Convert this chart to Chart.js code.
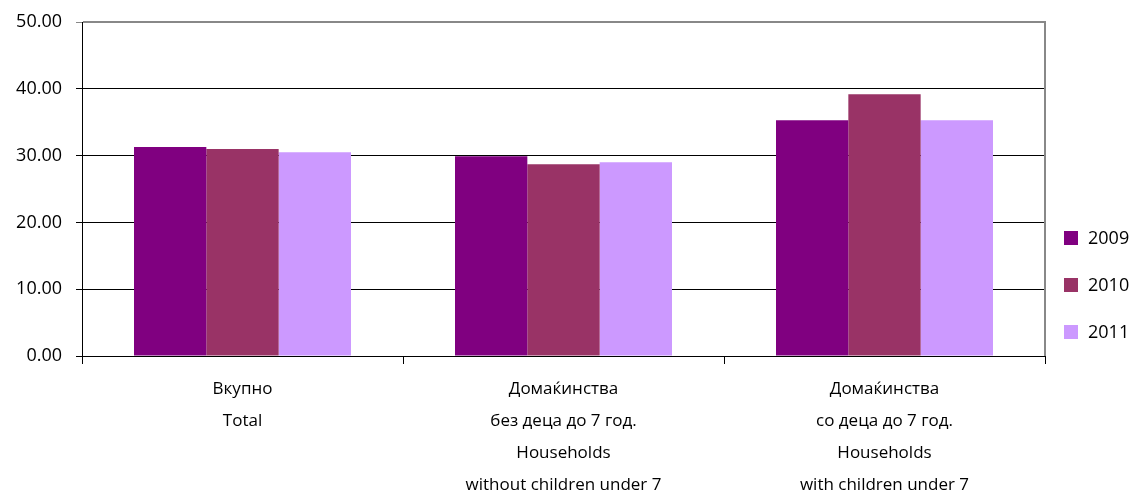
<!DOCTYPE html>
<html>
<head>
<meta charset="utf-8">
<script src="https://cdn.jsdelivr.net/npm/chart.js@4"></script>
<style>
  html, body { margin: 0; padding: 0; background: #fff; }
  #wrap { width: 1132px; height: 494px; position: relative; }
</style>
</head>
<body>
<div id="wrap"><canvas id="myChart"></canvas></div>
<script>
// категории (повеќе редови)
const categories = [
    ['Вкупно', 'Total'],
    ['Домаќинства', 'без деца до 7 год.', 'Households', 'without children under 7'],
    ['Домаќинства', 'со деца до 7 год.', 'Households', 'with children under 7']
];
const years = ['2009', '2010', '2011'];
const values2009 = [31.3, 29.9, 35.3];
const values2010 = [31.0, 28.7, 39.2];
const values2011 = [30.5, 29.0, 35.3];
const yTicks = [0, 10, 20, 30, 40, 50];

const colors = ['#800080', '#993366', '#CC99FF'];
const fontFamily = "'Open Sans', 'Noto Sans', sans-serif";

// легенда десно + рамка
const sideLegend = {
    id: 'sideLegend',
    afterDraw(chart) {
        const ctx = chart.ctx;
        const area = chart.chartArea;
        ctx.save();
        ctx.strokeStyle = '#888';
        ctx.lineWidth = 2;
        ctx.beginPath();
        ctx.moveTo(area.left + 1, area.top);
        ctx.lineTo(area.right, area.top);
        ctx.lineTo(area.right, area.bottom);
        ctx.stroke();

        ctx.font = '18px ' + fontFamily;
        ctx.textBaseline = 'middle';
        ctx.textAlign = 'left';
        chart.data.datasets.forEach((ds, i) => {
            const cy = 238 + i * 47;
            ctx.fillStyle = ds.backgroundColor;
            ctx.fillRect(1064, cy - 7, 14, 14);
            ctx.fillStyle = '#000';
            ctx.fillText(ds.label, 1088, cy + 1);
        });
        ctx.restore();
    }
};

const ctx = document.getElementById('myChart').getContext('2d');
new Chart(ctx, {
    type: 'bar',
    data: {
        labels: categories,
        datasets: [
            { label: years[0], data: values2009, backgroundColor: colors[0] },
            { label: years[1], data: values2010, backgroundColor: colors[1] },
            { label: years[2], data: values2011, backgroundColor: colors[2] }
        ]
    },
    options: {
        responsive: true,
        maintainAspectRatio: false,
        animation: false,
        layout: { padding: { top: 22, right: 87, left: 0, bottom: 0 } },
        datasets: {
            bar: { categoryPercentage: 0.676, barPercentage: 1.0 }
        },
        plugins: {
            legend: { display: false },
            tooltip: { enabled: false }
        },
        scales: {
            x: {
                offset: true,
                grid: {
                    offset: true,
                    drawOnChartArea: false,
                    color: '#000',
                    tickLength: 8
                },
                border: { color: '#000' },
                ticks: {
                    color: '#000',
                    padding: 9,
                    maxRotation: 0,
                    font: { family: fontFamily, size: 17, lineHeight: 1.88 }
                },
                afterFit(scale) { scale.height = 494 - 356; }
            },
            y: {
                min: 0,
                max: 50,
                afterBuildTicks(scale) {
                    scale.ticks = yTicks.map(v => ({ value: v }));
                },
                grid: {
                    color: c => (c.tick && c.tick.value === 50) ? '#888' : '#000',
                    tickLength: 6
                },
                border: { color: '#000' },
                ticks: {
                    color: '#000',
                    padding: 14,
                    font: { family: fontFamily, size: 18 },
                    callback: v => v.toFixed(2)
                },
                afterFit(scale) {
                    scale.width = 82;
                    scale.paddingTop = 0;
                    scale.paddingBottom = 0;
                }
            }
        }
    },
    plugins: [sideLegend]
});
</script>
</body>
</html>
